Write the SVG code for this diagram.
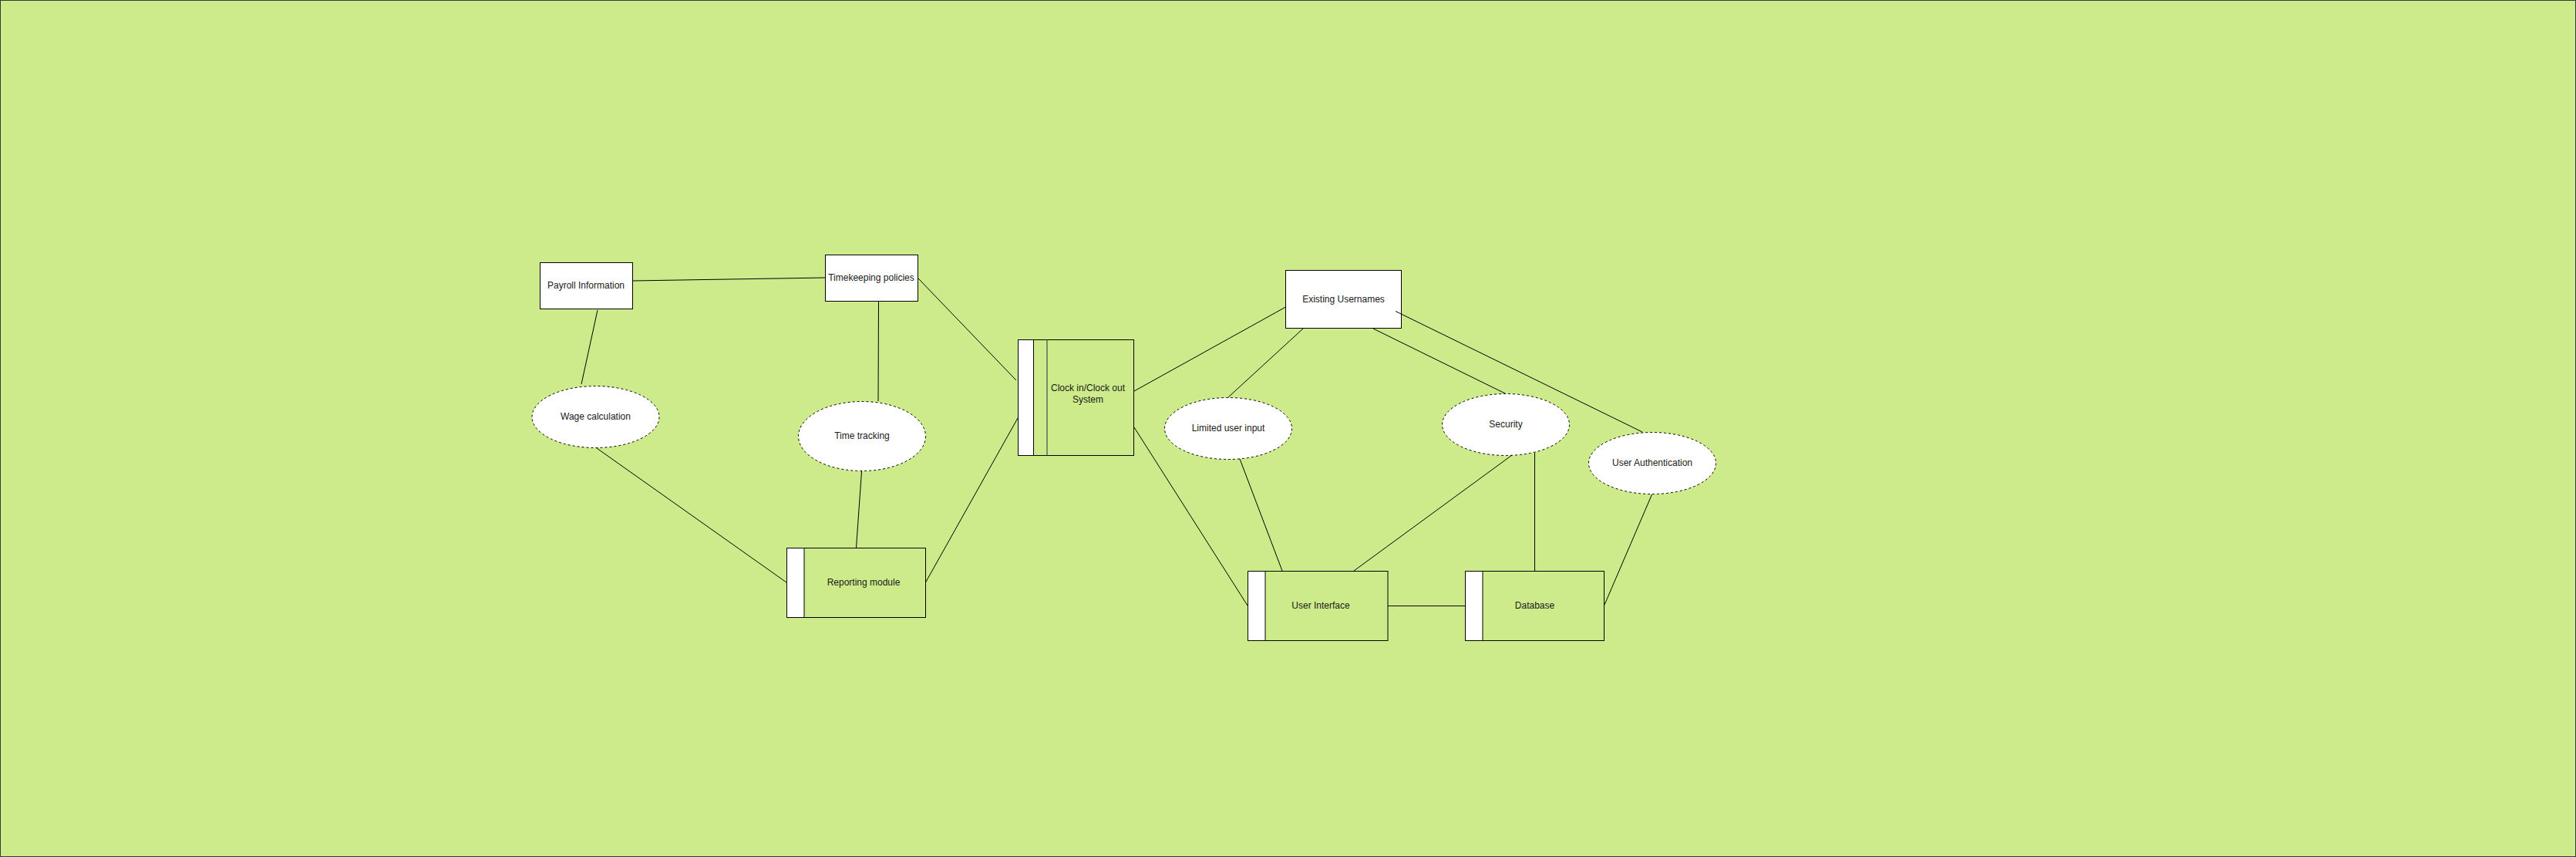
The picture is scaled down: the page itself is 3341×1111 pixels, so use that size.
<svg xmlns="http://www.w3.org/2000/svg" width="3341" height="1111" viewBox="0 0 3341 1111">
<style>
.box{fill:#ffffff;stroke:#000;stroke-width:1}
.proc{fill:#cdeb8b;stroke:#000;stroke-width:1}
.bar{fill:#ffffff;stroke:#000;stroke-width:1}
.ell{fill:#ffffff;stroke:#000;stroke-width:1;stroke-dasharray:3 3}
.lbl{font-family:"Liberation Sans",Arial,Helvetica,sans-serif;font-size:12px;fill:#1a1a1a;text-anchor:middle}
.conn line{stroke:#000;stroke-width:1;fill:none}
</style>
<rect x="0.5" y="0.5" width="3340" height="1110" fill="#cdeb8b" stroke="#36393d" stroke-width="1"/>
<g id="payroll-information">
<rect class="box" x="700.5" y="340.5" width="120" height="60"/>
<text class="lbl" x="760" y="374">Payroll Information</text>
</g>
<g id="timekeeping-policies">
<rect class="box" x="1070.5" y="330.5" width="120" height="60"/>
<text class="lbl" x="1130" y="364">Timekeeping policies</text>
</g>
<g id="wage-calculation">
<ellipse class="ell" cx="772.5" cy="540.5" rx="82.5" ry="40"/>
<text class="lbl" x="772.5" y="544">Wage calculation</text>
</g>
<g id="time-tracking">
<ellipse class="ell" cx="1118" cy="565.5" rx="82.5" ry="45"/>
<text class="lbl" x="1118" y="569">Time tracking</text>
</g>
<g id="reporting-module">
<rect class="proc" x="1020.5" y="710.5" width="180" height="90"/>
<rect class="bar" x="1020.5" y="710.5" width="22.5" height="90"/>
<text class="lbl" x="1120" y="759">Reporting module</text>
</g>
<g id="clock-system">
<rect class="proc" x="1320.5" y="440.5" width="150" height="150"/>
<rect class="bar" x="1320.5" y="440.5" width="20" height="150"/>
<line x1="1358" y1="440.5" x2="1358" y2="590.5" stroke="#555" stroke-width="1.3"/>
<text class="lbl" x="1411" y="507">Clock in/Clock out</text>
<text class="lbl" x="1411" y="522">System</text>
</g>
<g id="existing-usernames">
<rect class="box" x="1667.5" y="350.5" width="150" height="75"/>
<text class="lbl" x="1742.5" y="392">Existing Usernames</text>
</g>
<g id="limited-user-input">
<ellipse class="ell" cx="1593" cy="555.5" rx="82.5" ry="40"/>
<text class="lbl" x="1593" y="559">Limited user input</text>
</g>
<g id="security">
<ellipse class="ell" cx="1953" cy="550.5" rx="82.5" ry="40"/>
<text class="lbl" x="1953" y="554">Security</text>
</g>
<g id="user-authentication">
<ellipse class="ell" cx="2143" cy="600.5" rx="82.5" ry="40"/>
<text class="lbl" x="2143" y="604">User Authentication</text>
</g>
<g id="user-interface">
<rect class="proc" x="1618.5" y="740.5" width="181.5" height="90"/>
<rect class="bar" x="1618.5" y="740.5" width="22.5" height="90"/>
<text class="lbl" x="1713" y="789">User Interface</text>
</g>
<g id="database">
<rect class="proc" x="1900.5" y="740.5" width="180" height="90"/>
<rect class="bar" x="1900.5" y="740.5" width="22.5" height="90"/>
<text class="lbl" x="1990.5" y="789">Database</text>
</g>
<g id="connectors" class="conn">
<line x1="821" y1="364" x2="1070" y2="360"/>
<line x1="775" y1="402" x2="754" y2="498"/>
<line x1="1139.5" y1="391" x2="1139" y2="520"/>
<line x1="1191" y1="361" x2="1318" y2="493"/>
<line x1="774" y1="581" x2="1020" y2="755"/>
<line x1="1117.5" y1="611" x2="1110.5" y2="710"/>
<line x1="1200.5" y1="755" x2="1320" y2="542"/>
<line x1="1471" y1="507" x2="1667.5" y2="398"/>
<line x1="1690" y1="426" x2="1593" y2="515"/>
<line x1="1781" y1="426" x2="1952" y2="510"/>
<line x1="1810" y1="403.5" x2="2130" y2="560"/>
<line x1="1471" y1="554" x2="1618" y2="785"/>
<line x1="1608" y1="595" x2="1663" y2="740"/>
<line x1="1961" y1="590" x2="1756" y2="740"/>
<line x1="1990.5" y1="587" x2="1990.5" y2="740"/>
<line x1="1800" y1="785.5" x2="1900" y2="785.5"/>
<line x1="2142.5" y1="641" x2="2081" y2="784"/>
</g>
</svg>
